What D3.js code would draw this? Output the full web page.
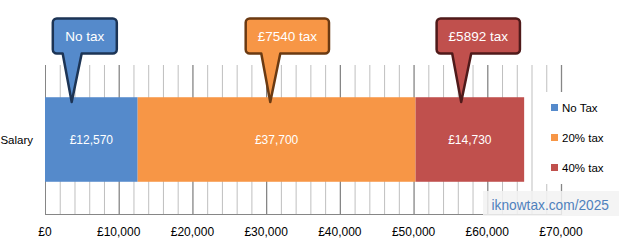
<!DOCTYPE html>
<html>
<head>
<meta charset="utf-8">
<script src="https://cdn.jsdelivr.net/npm/d3@7"></script>
<style>
  body { margin: 0; background: #fff; }
  text { font-family: "Liberation Sans", Arial, sans-serif; }
</style>
</head>
<body>
<div id="chart"></div>
<script>
"use strict";

// data
const categories = ["Salary"];
const bandNames = ["No Tax", "20% tax", "40% tax"];
const bandValues = [12570, 37700, 14730];
const bandColors = ["#558acb", "#f79646", "#c0504d"];
const calloutText = ["No tax", "£7540 tax", "£5892 tax"];
const calloutAt = [3620, 30560, 56460];
const calloutBorder = ["#1c3455", "#6b3a12", "#4f1a1a"];
const xTicks = [0, 10000, 20000, 30000, 40000, 50000, 60000, 70000];

const svgWidth = 628, svgHeight = 243;

const svg = d3.select("#chart").append("svg")
    .attr("width", svgWidth)
    .attr("height", svgHeight);

const plot = { left: 45, right: 561, top: 65, bottom: 214 };

const x = d3.scaleLinear().domain([0, 70000]).range([plot.left, plot.right]);
const y = d3.scaleBand().domain(categories).range([plot.top, plot.bottom]).padding(0.276);

// gridlines (minor every 2000, major every 10000)
const minor = d3.range(2000, 70001, 2000).filter(v => v % 10000 !== 0);
svg.append("g").selectAll("line").data(minor).enter().append("line")
    .attr("x1", d => x(d) + 0.5).attr("x2", d => x(d) + 0.5)
    .attr("y1", plot.top).attr("y2", plot.bottom)
    .attr("stroke", "#bfbfbf").attr("stroke-width", 1);
svg.append("g").selectAll("line").data(xTicks.slice(1)).enter().append("line")
    .attr("x1", d => x(d) + 0.5).attr("x2", d => x(d) + 0.5)
    .attr("y1", plot.top).attr("y2", plot.bottom)
    .attr("stroke", "#868686").attr("stroke-width", 1.3);

// axes lines
svg.append("line")
    .attr("x1", plot.left + 0.5).attr("x2", plot.left + 0.5)
    .attr("y1", plot.top).attr("y2", plot.bottom)
    .attr("stroke", "#868686");
svg.append("line")
    .attr("x1", plot.left).attr("x2", plot.right + 1)
    .attr("y1", plot.bottom + 0.5).attr("y2", plot.bottom + 0.5)
    .attr("stroke", "#868686");

// stacked bars
const stack = [];
let acc = 0;
bandValues.forEach((v, i) => {
    stack.push({ name: bandNames[i], start: acc, end: acc + v, value: v, color: bandColors[i] });
    acc += v;
});

const bars = svg.append("g");
bars.selectAll("rect").data(stack).enter().append("rect")
    .attr("x", d => x(d.start))
    .attr("width", d => x(d.end) - x(d.start))
    .attr("y", y("Salary"))
    .attr("height", y.bandwidth())
    .attr("fill", d => d.color);

bars.selectAll("text").data(stack).enter().append("text")
    .attr("x", d => (x(d.start) + x(d.end)) / 2)
    .attr("y", y("Salary") + y.bandwidth() / 2)
    .attr("dy", "0.35em")
    .attr("text-anchor", "middle")
    .attr("fill", "#fff")
    .style("font-size", "12px")
    .text(d => "£" + d3.format(",")(d.value));

// category label
svg.append("text")
    .attr("x", 33).attr("y", y("Salary") + y.bandwidth() / 2)
    .attr("dy", "0.35em")
    .attr("text-anchor", "end")
    .style("font-size", "11.5px")
    .text(categories[0]);

// x tick labels
svg.append("g").selectAll("text").data(xTicks).enter().append("text")
    .attr("x", d => x(d))
    .attr("y", 232)
    .attr("dy", "0.35em")
    .attr("text-anchor", "middle")
    .style("font-size", "12px")
    .text(d => "£" + d3.format(",")(d));

// legend
const legend = svg.append("g");
legend.append("rect")
    .attr("x", 541).attr("y", 92).attr("width", 85).attr("height", 92)
    .attr("fill", "#fff");
const li = legend.selectAll("g").data(bandNames).enter().append("g")
    .attr("transform", (d, i) => `translate(551,${107.5 + i * 30})`);
li.append("rect")
    .attr("x", 0).attr("y", -3.5).attr("width", 7).attr("height", 7)
    .attr("fill", (d, i) => bandColors[i]);
li.append("text")
    .attr("x", 11).attr("y", 0).attr("dy", "0.35em")
    .style("font-size", "11.5px")
    .text(d => d);

// callouts
const boxTop = 18.5, boxH = 35, tipY = 102;
calloutText.forEach((t, i) => {
    const g = svg.append("g");
    const txt = g.append("text")
        .attr("y", boxTop + boxH / 2)
        .attr("dy", "0.35em")
        .attr("text-anchor", "middle")
        .attr("fill", "#fff")
        .style("font-size", "13.5px")
        .text(t);
    const tw = txt.node().getComputedTextLength();
    const w = Math.max(64, tw + 24);
    const tip = x(calloutAt[i]);
    const left = tip - 0.295 * w;
    const r = 4, b = boxTop + boxH;
    const b0 = tip - 9, b1 = tip + 10;
    const p = d3.path();
    p.moveTo(left + r, boxTop);
    p.lineTo(left + w - r, boxTop);
    p.arcTo(left + w, boxTop, left + w, boxTop + r, r);
    p.lineTo(left + w, b - r);
    p.arcTo(left + w, b, left + w - r, b, r);
    p.lineTo(b1, b);
    p.lineTo(tip, tipY);
    p.lineTo(b0, b);
    p.lineTo(left + r, b);
    p.arcTo(left, b, left, b - r, r);
    p.lineTo(left, boxTop + r);
    p.arcTo(left, boxTop, left + r, boxTop, r);
    p.closePath();
    g.insert("path", "text")
        .attr("d", p.toString())
        .attr("fill", bandColors[i])
        .attr("stroke", calloutBorder[i])
        .attr("stroke-width", 2.5)
        .attr("stroke-linejoin", "round");
    txt.attr("x", left + w / 2);
});

// watermark
svg.append("rect")
    .attr("x", 483).attr("y", 191).attr("width", 136).attr("height", 25)
    .attr("fill", "#f2f2f2").attr("fill-opacity", 0.85);
svg.append("text")
    .attr("x", 491.5).attr("y", 209.5)
    .attr("fill", "#4f81bd")
    .attr("textLength", 117.5)
    .attr("lengthAdjust", "spacingAndGlyphs")
    .style("font-size", "14.5px")
    .text("iknowtax.com/2025");
</script>
</body>
</html>
